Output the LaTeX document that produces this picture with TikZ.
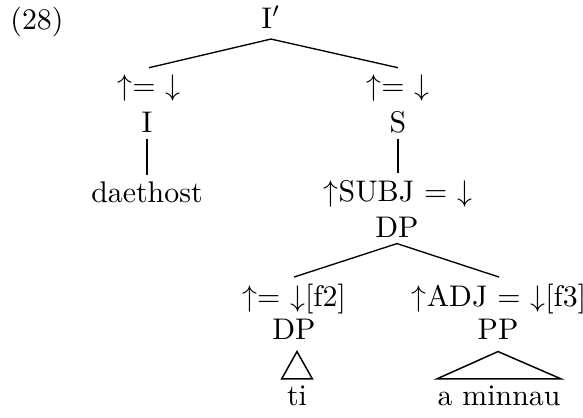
\documentclass[tikz,border=0pt]{standalone}
\usepackage{tikz}

\tikzset{
    label/.style={anchor=base, inner sep=2pt},
    branch/.style={line width=0.45pt},
    stem/.style={line width=0.7pt},
    roof/.style={line width=0.5pt}
}

\begin{document}
\begin{tikzpicture}[x=0.335pt, y=-0.335pt, every node/.style={label}]
            % frame
            \useasboundingbox (0,0) rectangle (583,417);

            % example number
            \node (num) at (37,29) {(28)};

            % top level
            \node (Ibar) at (271,28) {I$'$};
            \coordinate (Ibarfoot) at ([yshift=-1.5pt]Ibar.south);
            \node (annI) at (149,95) {$\uparrow$= $\downarrow$};
            \node (annS) at (398,95) {$\uparrow$= $\downarrow$};
            \node (I) at (147,132) {I};
            \node (S) at (398,132) {S};

            % second level
            \node (daethost) at (147,202) {daethost};
            \node (annSubj) at (398,201) {$\uparrow$SUBJ = $\downarrow$};
            \node (DPsubj) at (397,237) {DP};

            % third level
            \node (annF2) at (294,306) {$\uparrow$= $\downarrow$[f2]};
            \node (annF3) at (499,306) {$\uparrow$ADJ = $\downarrow$[f3]};
            \node (DP) at (294,339) {DP};
            \node (PP) at (498,339) {PP};
            \node[inner xsep=1.6pt] (ti) at (297,405) {ti};
            \node[inner xsep=0pt] (minnau) at (499,405) {a minnau};

            % branches
            \draw[branch] (Ibarfoot) -- (annI.north);
            \draw[branch] (Ibarfoot) -- (annS.north);
            \draw[stem] (I.south) -- (I.south |- daethost.north);
            \draw[stem] (S.south) -- (S.south |- annSubj.north);
            \draw[branch] (DPsubj.south) -- (annF2.north);
            \draw[branch] (DPsubj.south) -- (annF3.north);

            % roofs
            \draw[roof] ([yshift=-2pt]DP.south -| ti) -- (ti.north west) -- (ti.north east) -- cycle;
            \draw[roof] ([yshift=-2pt]PP.south) -- (minnau.north west) -- (minnau.north east) -- cycle;
        \end{tikzpicture}
\end{document}
